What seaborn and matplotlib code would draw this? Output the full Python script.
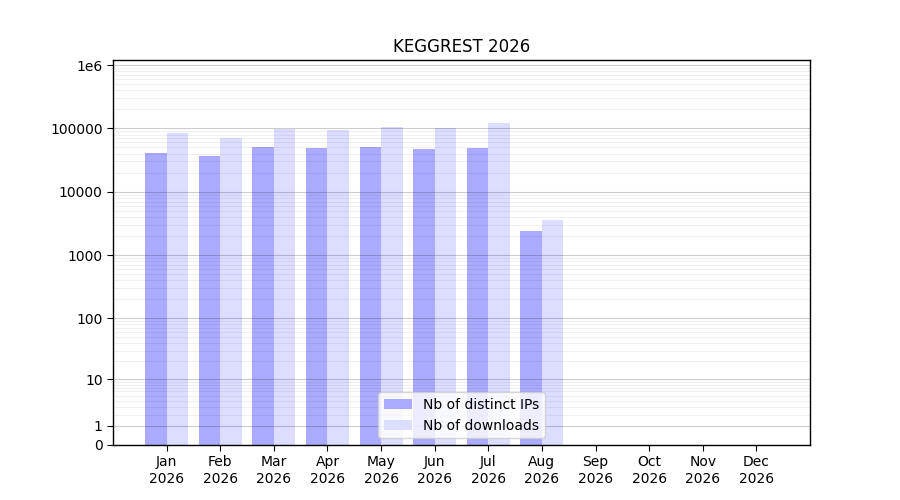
import numpy as np
import pandas as pd
import matplotlib
matplotlib.use('Agg')
import matplotlib.pyplot as plt
import seaborn as sns

# Monatswerte
months = ['Jan', 'Feb', 'Mar', 'Apr', 'May', 'Jun', 'Jul', 'Aug', 'Sep', 'Oct', 'Nov', 'Dec']
year = 2026
distinct_ips = [40700, 36500, 50600, 48700, 50600, 47000, 48700, 2390, 0, 0, 0, 0]
downloads = [84000, 70200, 98400, 93800, 104000, 101000, 121000, 3560, 0, 0, 0, 0]
series_names = ['Nb of distinct IPs', 'Nb of downloads']
y_ticks = [0, 1, 10, 100, 1000, 10000, 100000, 1000000]
y_tick_labels = ['0', '1', '10', '100', '1000', '10000', '100000', '1e6']

df = pd.DataFrame({
    'month': months * 2,
    'value': distinct_ips + downloads,
    'series': [series_names[0]] * len(months) + [series_names[1]] * len(months),
})

sns.set_style('white')
plt.rcParams['font.family'] = ['DejaVu Sans']
plt.rcParams.update({'text.color': 'black', 'xtick.color': 'black', 'ytick.color': 'black',
                     'axes.labelcolor': 'black'})

fig, ax = plt.subplots(figsize=(9, 5), dpi=100)
fig.subplots_adjust(left=0.1256, right=0.9, top=0.88, bottom=0.11)

# log(1+x)-Skala, damit 0 darstellbar ist
ax.set_yscale('function', functions=(lambda v: np.log10(1 + np.clip(v, 0, None)),
                                     lambda v: 10 ** v - 1))

sns.barplot(data=df, x='month', y='value', hue='series', order=months,
            palette=['#aaaaff', '#ddddff'], saturation=1, width=0.8,
            linewidth=0, edgecolor='none', ax=ax)

ax.set_xlim(-1, 12)
ax.set_ylim(0, 10 ** 6.08 - 1)
ax.set_xticks(range(len(months)))
ax.set_xticklabels([f'{m}\n{year}' for m in months])
ax.set_yticks(y_ticks)
ax.set_yticklabels(y_tick_labels)
minor = [k * 10 ** d for d in range(0, 6) for k in range(2, 10)]
ax.set_yticks(minor, minor=True)
ax.tick_params(axis='y', which='minor', length=0)
ax.tick_params(axis='both', which='major', length=4, direction='out', left=True, bottom=True,
               labelsize=10, colors='black')
ax.set_axisbelow(False)
ax.grid(axis='y', which='major', color='black', alpha=0.2, linewidth=0.8)
ax.grid(axis='y', which='minor', color='black', alpha=0.06, linewidth=0.8)
for s in ax.spines.values():
    s.set_color('black')
    s.set_linewidth(1)

ax.set_xlabel('')
ax.set_ylabel('')
ax.set_title(f'KEGGREST {year}', fontsize=12, color='black')
ax.legend(loc='lower center', frameon=True, fontsize=10)

fig.savefig('out.png', dpi=100)
